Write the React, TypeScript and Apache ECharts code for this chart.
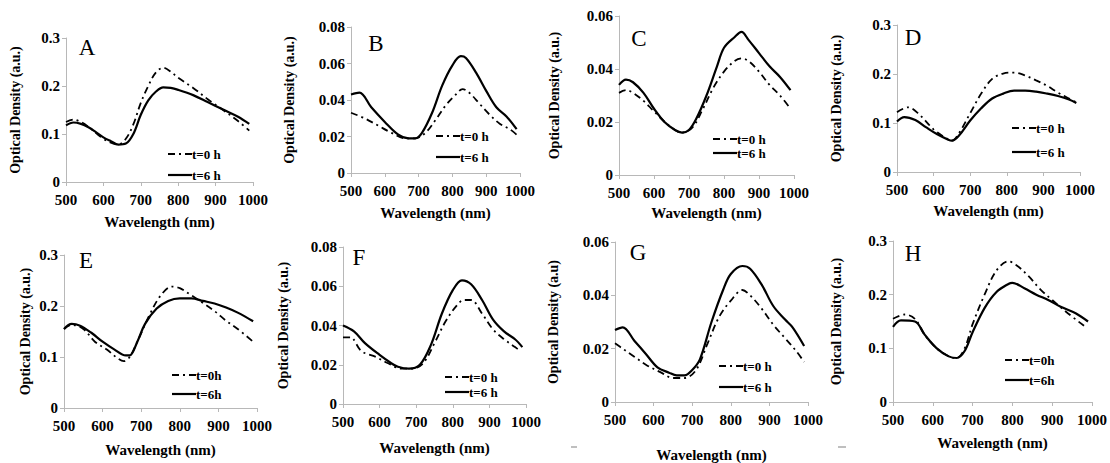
import { useEffect, useRef } from "react";
import * as echarts from "echarts";

// ---- data (wavelength nm, optical density a.u.) ----
const WL_A0 = [500, 520, 540, 560, 580, 600, 620, 640, 660, 680, 700, 720, 740, 760, 780, 800, 840, 880, 920, 960, 990];
const OD_A0 = [0.125, 0.13, 0.125, 0.115, 0.102, 0.09, 0.082, 0.078, 0.09, 0.12, 0.165, 0.2, 0.228, 0.238, 0.23, 0.217, 0.196, 0.172, 0.15, 0.127, 0.107];
const WL_A6 = [500, 520, 540, 560, 580, 600, 620, 640, 660, 680, 700, 720, 740, 760, 780, 800, 840, 880, 920, 960, 990];
const OD_A6 = [0.118, 0.124, 0.121, 0.114, 0.104, 0.093, 0.085, 0.078, 0.08, 0.1, 0.14, 0.17, 0.188, 0.197, 0.196, 0.192, 0.181, 0.166, 0.151, 0.136, 0.121];

const WL_B0 = [500, 540, 580, 620, 660, 690, 720, 750, 780, 810, 830, 850, 880, 910, 940, 970, 990];
const OD_B0 = [0.033, 0.03, 0.026, 0.022, 0.019, 0.019, 0.022, 0.029, 0.037, 0.043, 0.046, 0.044, 0.038, 0.032, 0.027, 0.024, 0.021];
const WL_B6 = [500, 525, 560, 600, 640, 670, 690, 710, 740, 770, 800, 825, 840, 870, 900, 930, 960, 990];
const OD_B6 = [0.043, 0.044, 0.036, 0.028, 0.021, 0.019, 0.019, 0.022, 0.033, 0.048, 0.059, 0.064, 0.063, 0.055, 0.045, 0.036, 0.031, 0.024];

const WL_C0 = [500, 520, 540, 570, 600, 640, 680, 710, 740, 770, 800, 830, 850, 870, 900, 930, 960, 990];
const OD_C0 = [0.031, 0.032, 0.031, 0.028, 0.024, 0.019, 0.016, 0.018, 0.025, 0.033, 0.039, 0.043, 0.044, 0.043, 0.039, 0.034, 0.03, 0.025];
const WL_C6 = [500, 520, 540, 570, 600, 630, 660, 680, 700, 720, 750, 780, 800, 830, 850, 870, 900, 930, 960, 990];
const OD_C6 = [0.034, 0.036, 0.035, 0.031, 0.025, 0.02, 0.017, 0.016, 0.017, 0.021, 0.03, 0.041, 0.048, 0.052, 0.054, 0.051, 0.046, 0.041, 0.037, 0.032];

const WL_D0 = [500, 530, 560, 600, 630, 650, 670, 700, 730, 760, 790, 820, 850, 880, 910, 940, 970, 990];
const OD_D0 = [0.122, 0.132, 0.118, 0.087, 0.071, 0.064, 0.08, 0.12, 0.16, 0.19, 0.201, 0.203, 0.197, 0.187, 0.176, 0.162, 0.15, 0.142];
const WL_D6 = [500, 520, 550, 580, 610, 640, 650, 670, 700, 730, 760, 790, 820, 850, 880, 910, 940, 970, 990];
const OD_D6 = [0.103, 0.112, 0.106, 0.091, 0.077, 0.066, 0.064, 0.075, 0.105, 0.13, 0.15, 0.16, 0.166, 0.166, 0.164, 0.16, 0.155, 0.148, 0.141];

const WL_E0 = [500, 520, 550, 580, 610, 640, 655, 670, 690, 720, 750, 780, 800, 830, 860, 890, 920, 950, 990];
const OD_E0 = [0.155, 0.163, 0.155, 0.13, 0.115, 0.097, 0.092, 0.1, 0.13, 0.18, 0.22, 0.238, 0.235, 0.221, 0.206, 0.19, 0.171, 0.155, 0.13];
const WL_E6 = [500, 520, 540, 570, 600, 630, 660, 670, 690, 710, 740, 770, 800, 830, 860, 890, 920, 950, 990];
const OD_E6 = [0.155, 0.165, 0.162, 0.148, 0.13, 0.115, 0.103, 0.103, 0.13, 0.165, 0.195, 0.21, 0.215, 0.215, 0.21, 0.205, 0.197, 0.187, 0.17];

const WL_F0 = [500, 520, 550, 590, 620, 660, 690, 720, 750, 780, 810, 830, 850, 880, 910, 940, 970, 985];
const OD_F0 = [0.034, 0.034, 0.027, 0.024, 0.021, 0.018, 0.018, 0.021, 0.031, 0.042, 0.05, 0.053, 0.053, 0.046, 0.038, 0.033, 0.029, 0.027];
const WL_F6 = [500, 530, 560, 600, 630, 650, 680, 710, 740, 770, 800, 825, 850, 880, 910, 940, 970, 990];
const OD_F6 = [0.04, 0.037, 0.031, 0.025, 0.021, 0.019, 0.018, 0.02, 0.03, 0.046, 0.058, 0.063, 0.061, 0.053, 0.043, 0.037, 0.033, 0.029];

const WL_G0 = [500, 520, 550, 580, 620, 650, 680, 710, 740, 770, 800, 830, 850, 880, 910, 940, 970, 990];
const OD_G0 = [0.022, 0.02, 0.017, 0.014, 0.011, 0.009, 0.009, 0.012, 0.022, 0.032, 0.038, 0.042, 0.04, 0.035, 0.029, 0.024, 0.019, 0.015];
const WL_G6 = [500, 520, 550, 580, 610, 640, 660, 680, 700, 720, 750, 780, 800, 830, 850, 880, 910, 940, 960, 990];
const OD_G6 = [0.027, 0.028, 0.023, 0.018, 0.013, 0.011, 0.01, 0.01, 0.012, 0.016, 0.03, 0.042, 0.048, 0.051, 0.05, 0.044, 0.036, 0.031, 0.028, 0.021];

const WL_H0 = [500, 530, 555, 580, 610, 640, 660, 680, 700, 730, 760, 790, 810, 840, 870, 900, 940, 980];
const OD_H0 = [0.155, 0.163, 0.155, 0.125, 0.1, 0.085, 0.082, 0.1, 0.145, 0.2, 0.245, 0.262, 0.255, 0.235, 0.21, 0.19, 0.165, 0.142];
const WL_H6 = [500, 520, 555, 580, 610, 640, 660, 680, 700, 730, 760, 790, 800, 830, 860, 890, 920, 960, 990];
const OD_H6 = [0.14, 0.152, 0.15, 0.125, 0.1, 0.085, 0.082, 0.095, 0.13, 0.175, 0.205, 0.22, 0.222, 0.212, 0.2, 0.19, 0.178, 0.165, 0.15];

const X_MIN = 500;
const X_MAX = 1000;
const X_STEP = 100;
const Y_NAME = "Optical Density (a.u.)";
const Y_NAME_G = "Optical Density (a.u)";
const X_NAME = "Wavelength (nm)";
const LEG_SP = ["t=0 h", "t=6 h"];
const LEG_NS = ["t=0h", "t=6h"];

// layout: g = [left, top, width, height]; lp = letter centre; leg = [sampleLeft, row0Y, row1Y]
const panels = [
  { letter: "A", g: [66, 38, 187, 144], max: 0.3, step: 0.1, yName: Y_NAME, yGap: 44, xGap: 32, lp: [87, 47], leg: [168, 154, 175], names: LEG_SP, s0: [WL_A0, OD_A0], s6: [WL_A6, OD_A6] },
  { letter: "B", g: [351, 27, 169, 146], max: 0.08, step: 0.02, yName: Y_NAME, yGap: 55, xGap: 32, lp: [376, 43], leg: [436, 136, 157], names: LEG_SP, s0: [WL_B0, OD_B0], s6: [WL_B6, OD_B6] },
  { letter: "C", g: [619, 16, 175, 159], max: 0.06, step: 0.02, yName: Y_NAME, yGap: 58, xGap: 30, lp: [639, 38], leg: [713, 139, 153], names: LEG_SP, s0: [WL_C0, OD_C0], s6: [WL_C6, OD_C6] },
  { letter: "D", g: [897, 25, 183, 147], max: 0.3, step: 0.1, yName: Y_NAME, yGap: 54, xGap: 31, lp: [913, 37], leg: [1012, 128, 152], names: LEG_SP, s0: [WL_D0, OD_D0], s6: [WL_D6, OD_D6] },
  { letter: "E", g: [64, 255, 193, 153], max: 0.3, step: 0.1, yName: Y_NAME, yGap: 32, xGap: 34, lp: [86, 260], leg: [172, 375, 394], names: LEG_NS, s0: [WL_E0, OD_E0], s6: [WL_E6, OD_E6] },
  { letter: "F", g: [343, 247, 183, 157], max: 0.08, step: 0.02, yName: Y_NAME, yGap: 53, xGap: 36, lp: [359, 257], leg: [445, 377, 392], names: LEG_SP, s0: [WL_F0, OD_F0], s6: [WL_F6, OD_F6] },
  { letter: "G", g: [615, 242, 193, 162], max: 0.06, step: 0.02, yName: Y_NAME_G, yGap: 55, xGap: 45, lp: [638, 252], leg: [719, 366, 387], names: LEG_SP, s0: [WL_G0, OD_G0], s6: [WL_G6, OD_G6] },
  { letter: "H", g: [893, 241, 200, 161], max: 0.3, step: 0.1, yName: Y_NAME, yGap: 50, xGap: 33, lp: [913, 253], leg: [1005, 360, 380], names: LEG_NS, s0: [WL_H0, OD_H0], s6: [WL_H6, OD_H6] },
];

const FAMILY = "Liberation Serif";
const FONT = '"Liberation Serif", serif';
const AXIS_COLOR = "#b8b8b8";
const DASH_DOT = [7, 4, 2, 4];

function zip(xs: number[], ys: number[]) {
  return xs.map((x, i) => [x, ys[i]]);
}

export default function App() {
  const ref = useRef<HTMLDivElement>(null);
  useEffect(() => {
    if (!ref.current) return;
    const chart = echarts.init(ref.current, null, { renderer: "svg" });
    const grid: any[] = [];
    const xAxis: any[] = [];
    const yAxis: any[] = [];
    const series: any[] = [];
    const graphic: any[] = [];
    const boldText = { fontFamily: FAMILY, fontWeight: "bold" as const, fontSize: 14, color: "#000" };
    panels.forEach((p, i) => {
      grid.push({ left: p.g[0], top: p.g[1], width: p.g[2], height: p.g[3], containLabel: false });
      xAxis.push({
        type: "value", gridIndex: i, min: X_MIN, max: X_MAX, interval: X_STEP,
        name: X_NAME, nameLocation: "middle", nameGap: p.xGap,
        nameTextStyle: { ...boldText, fontSize: 15 },
        axisLine: { show: true, lineStyle: { color: AXIS_COLOR, width: 1 } },
        axisTick: { show: true, length: 4, lineStyle: { color: AXIS_COLOR } },
        axisLabel: { ...boldText, fontSize: 15, margin: 10, formatter: (v: number) => String(v) },
        splitLine: { show: false },
      });
      yAxis.push({
        type: "value", gridIndex: i, min: 0, max: p.max, interval: p.step,
        name: p.yName, nameLocation: "middle", nameGap: p.yGap,
        nameTextStyle: { ...boldText },
        axisLine: { show: true, lineStyle: { color: AXIS_COLOR, width: 1 } },
        axisTick: { show: true, length: 4, lineStyle: { color: AXIS_COLOR } },
        axisLabel: { ...boldText, fontSize: 15, margin: 6, formatter: (v: number) => String(Math.round(v * 1000) / 1000) },
        splitLine: { show: false },
      });
      series.push({
        type: "line", name: p.names[0], xAxisIndex: i, yAxisIndex: i,
        data: zip(p.s0[0], p.s0[1]), symbol: "none", smooth: 0.35,
        lineStyle: { color: "#000", width: 1.8, type: DASH_DOT },
        itemStyle: { color: "#000" }, z: 2,
      });
      series.push({
        type: "line", name: p.names[1], xAxisIndex: i, yAxisIndex: i,
        data: zip(p.s6[0], p.s6[1]), symbol: "none", smooth: 0.35,
        lineStyle: { color: "#000", width: 2.2, type: "solid" },
        itemStyle: { color: "#000" }, z: 3,
      });
      const lx = p.leg[0];
      graphic.push({
        type: "line", shape: { x1: lx, y1: p.leg[1], x2: lx + 24, y2: p.leg[1] },
        style: { stroke: "#000", lineWidth: 1.8, lineDash: DASH_DOT },
      });
      graphic.push({
        type: "text", x: lx + 24, y: p.leg[1],
        style: { text: p.names[0], font: `bold 13px ${FONT}`, fill: "#000", verticalAlign: "middle" },
      });
      graphic.push({
        type: "line", shape: { x1: lx, y1: p.leg[2], x2: lx + 24, y2: p.leg[2] },
        style: { stroke: "#000", lineWidth: 2.2 },
      });
      graphic.push({
        type: "text", x: lx + 24, y: p.leg[2],
        style: { text: p.names[1], font: `bold 13px ${FONT}`, fill: "#000", verticalAlign: "middle" },
      });
      graphic.push({
        type: "text", x: p.lp[0], y: p.lp[1],
        style: { text: p.letter, font: `23px ${FONT}`, fill: "#000", align: "center", verticalAlign: "middle" },
      });
    });
    // faint scan marks present in the source figure
    graphic.push({ type: "line", shape: { x1: 571, y1: 447, x2: 577, y2: 447 }, style: { stroke: "#aaa", lineWidth: 1.5 } });
    graphic.push({ type: "line", shape: { x1: 838, y1: 447, x2: 846, y2: 447 }, style: { stroke: "#aaa", lineWidth: 1.5 } });
    chart.setOption({
      animation: false,
      backgroundColor: "#fff",
      textStyle: { fontFamily: FAMILY },
      grid, xAxis, yAxis, series, graphic,
    });
    return () => chart.dispose();
  }, []);
  return <div ref={ref} style={{ position: "fixed", left: 0, top: 0, width: 1110, height: 463 }} />;
}
